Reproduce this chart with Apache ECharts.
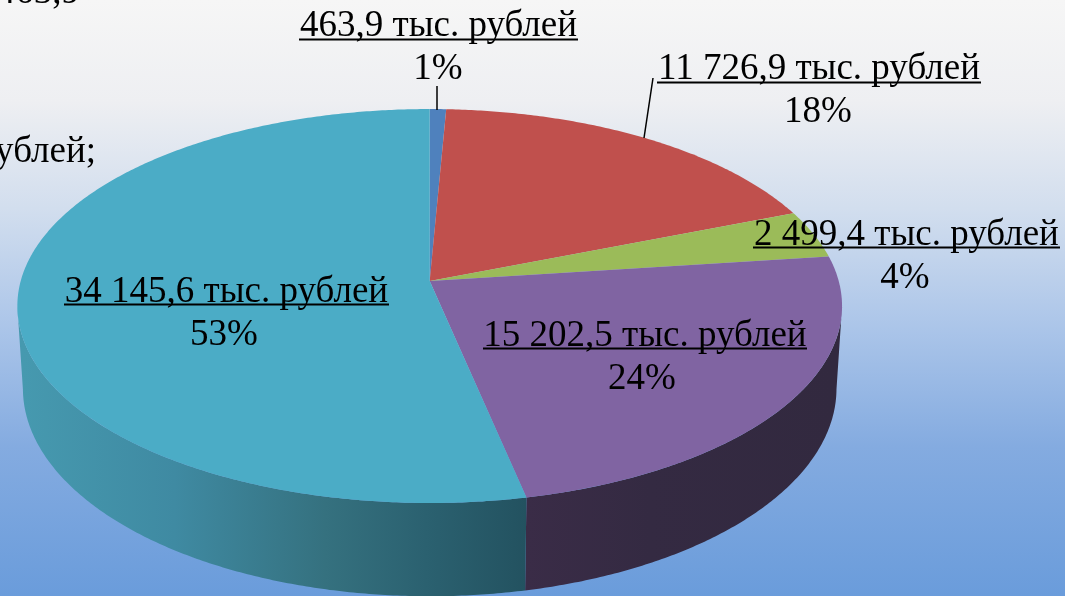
<!DOCTYPE html>
<html><head><meta charset="utf-8">
<style>html,body{margin:0;padding:0;overflow:hidden}#c{width:1065px;height:596px}</style>
<script src="https://cdn.jsdelivr.net/npm/echarts@6/dist/echarts.min.js"></script>
</head><body><div id="c"></div>
<script>
// data
const amounts = [463.9, 11726.9, 2499.4, 15202.5, 34145.6];
const amountLabels = ['463,9 тыс. рублей','11 726,9 тыс. рублей','2 499,4 тыс. рублей','15 202,5 тыс. рублей','34 145,6 тыс. рублей'];
const percentLabels = ['1%','18%','4%','24%','53%'];
const topColors = ['#4F81BD','#C0504D','#9BBB59','#8064A2','#4BACC6'];

// layout (label boxes in pixels: left, right, underline y, amount baseline, percent baseline, percent centre)
const labelBoxes = [
  [299,578,39.5,35,78,438],
  [657,981,82.5,78,121,818],
  [753,1060,247.5,244,287,905],
  [483,807,348.5,345,388,642],
  [64,389,304.5,301,344,224]
];
const leaderLines = [[437,86,437,110],[653,78,644,138]];
const clippedTexts = [['463,9',80,2,'right'],['рублей;',96,161,'right']];
const FONT = '37px "Liberation Serif"';
const MID = 9; // distance from middle of the text box to its baseline

// projected disc: a circle seen in perspective
const K = 0.127;
const topDisc = {cx:429.7, cy:281, A:409, B:193.8};
const baseDisc = {cx:429.7, cy:362, A:403.5, B:204.5};
function proj(d, deg){
  const a = deg*Math.PI/180, X = Math.sin(a), Y = -Math.cos(a), w = 1-K*Y;
  return [d.cx + d.A*X/w, d.cy + d.B*Y/w];
}
function arc(d, a0, a1){
  const n = Math.max(2, Math.ceil(Math.abs(a1-a0)/0.5)), out = [];
  for(let i=0;i<=n;i++) out.push(proj(d, a0+(a1-a0)*i/n));
  return out;
}
const total = amounts.reduce((s,v)=>s+v,0);
const WALL_FROM = 97.5, WALL_TO = 262.5;
let acc = 0;
const rows = amounts.map((v,i)=>{ const s = acc/total*360; acc += v; return [i, s, acc/total*360, v]; });

function wallFill(i){
  if(i===4) return {type:'linear',global:true,x:24,y:0,x2:526,y2:0,colorStops:[
    {offset:0,color:'#4699AF'},{offset:.3,color:'#3F8AA2'},{offset:.6,color:'#35717F'},{offset:.8,color:'#2B6170'},{offset:1,color:'#235260'}]};
  if(i===3) return {type:'linear',global:true,x:526,y:0,x2:834,y2:0,colorStops:[
    {offset:0,color:'#3A2C47'},{offset:.4,color:'#342A42'},{offset:1,color:'#32293F'}]};
  return topColors[i];
}
function txt(text,x,base,align){
  return {text,x,y:base-MID,font:FONT,fill:'#000',align,verticalAlign:'middle'};
}

const option = {
  animation:false,
  backgroundColor:{type:'linear',x:0,y:0,x2:0,y2:1,colorStops:[
    {offset:0,color:'#F6F6F6'},{offset:.17,color:'#EEEFF2'},{offset:.35,color:'#D2DEEE'},
    {offset:.55,color:'#ABC5E9'},{offset:.75,color:'#84ABE0'},{offset:1,color:'#6A9CDB'}]},
  series:[
    { // walls
      type:'custom',coordinateSystem:'none',silent:true,z:1,
      data:rows,
      renderItem(p,api){
        const i=api.value(0), a0=Math.max(api.value(1),WALL_FROM), a1=Math.min(api.value(2),WALL_TO);
        if(a1<=a0) return null;
        const pts = arc(topDisc,a0,a1).concat(arc(baseDisc,a1,a0));
        return {type:'polygon',shape:{points:pts},style:{fill:wallFill(i)}};
      }
    },
    { // top faces
      type:'custom',coordinateSystem:'none',silent:true,z:2,
      data:rows,
      renderItem(p,api){
        const i=api.value(0);
        const pts=[[topDisc.cx,topDisc.cy]].concat(arc(topDisc,api.value(1),api.value(2)));
        return {type:'polygon',shape:{points:pts},style:{fill:topColors[i]}};
      }
    },
    { // labels
      type:'custom',coordinateSystem:'none',silent:true,z:3,
      data:rows,
      renderItem(p,api){
        const i=api.value(0), b=labelBoxes[i];
        const ch=[
          {type:'text',style:txt(amountLabels[i],(b[0]+b[1])/2,b[3],'center')},
          {type:'line',shape:{x1:b[0],y1:b[2],x2:b[1],y2:b[2]},style:{stroke:'#000',lineWidth:1.8}},
          {type:'text',style:txt(percentLabels[i],b[5],b[4],'center')}
        ];
        return {type:'group',children:ch};
      }
    }
  ],
  graphic:{elements:leaderLines.map(l=>({type:'line',z:5,shape:{x1:l[0],y1:l[1],x2:l[2],y2:l[3]},style:{stroke:'#000',lineWidth:1.5}}))
    .concat(clippedTexts.map(t=>({type:'text',z:5,style:txt(t[0],t[1],t[2],t[3])})))}
};
echarts.init(document.getElementById('c'),null,{renderer:'canvas'}).setOption(option);
</script></body></html>
